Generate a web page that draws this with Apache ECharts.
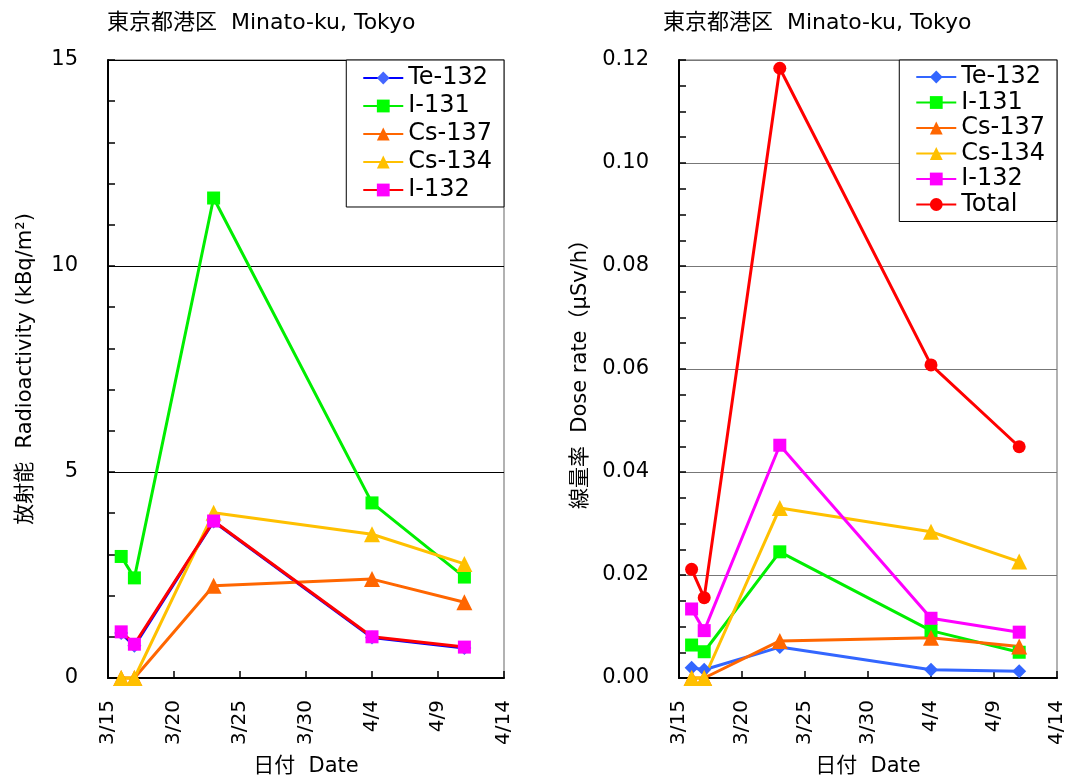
<!DOCTYPE html>
<html>
<head>
<meta charset="utf-8">
<script src="https://cdn.jsdelivr.net/npm/echarts@6/dist/echarts.min.js"></script>
<style>
  html, body { margin: 0; padding: 0; background: #fff; }
  #main { width: 1068px; height: 778px; }
</style>
</head>
<body>
<div id="main"></div>
<script>
var FONT = "'DejaVu Sans', 'Noto Sans CJK JP', sans-serif";

// sampling dates (2011)
var dates = ['3/16', '3/17', '3/23', '4/4', '4/11'];
var nuclides = ['Te-132', 'I-131', 'Cs-137', 'Cs-134', 'I-132'];

// radioactivity, kBq/m2
var te132Act = [1.09, 0.78, 3.80, 0.98, 0.73];
var i131Act  = [2.95, 2.43, 11.65, 4.25, 2.45];
var cs137Act = [0, 0, 2.24, 2.40, 1.84];
var cs134Act = [0, 0, 4.01, 3.49, 2.77];
var i132Act  = [1.12, 0.82, 3.81, 1.00, 0.75];

// dose rate, uSv/h
var te132Dose = [0.0020, 0.0016, 0.0060, 0.0016, 0.0013];
var i131Dose  = [0.0064, 0.0051, 0.0245, 0.0092, 0.0050];
var cs137Dose = [0, 0, 0.0072, 0.0078, 0.0061];
var cs134Dose = [0, 0, 0.0330, 0.0284, 0.0226];
var i132Dose  = [0.0134, 0.0092, 0.0452, 0.0116, 0.0089];
var totalDose = [0.0211, 0.0156, 0.1184, 0.0608, 0.0449];

// day offset from 3/15
function dayOf(md) {
  var p = md.split('/');
  return (Date.UTC(2011, +p[0] - 1, +p[1]) - Date.UTC(2011, 2, 15)) / 86400000;
}
function labelOf(v) {
  var d = new Date(Date.UTC(2011, 2, 15) + v * 86400000);
  return (d.getUTCMonth() + 1) + '/' + d.getUTCDate();
}
function pts(vals) {
  return vals.map(function (v, i) { return [dayOf(dates[i]), v]; });
}

function mkSeries(name, idx, vals, lineColor, markColor, symbol, size) {
  return {
    name: name,
    type: 'line',
    xAxisIndex: idx,
    yAxisIndex: idx,
    data: pts(vals),
    symbol: symbol,
    symbolSize: size,
    clip: false,
    lineStyle: { color: lineColor, width: 3 },
    itemStyle: { color: markColor, borderWidth: 0 },
    emphasis: { disabled: true },
    z: 3
  };
}

function xAxisOf(idx) {
  return {
    type: 'value',
    gridIndex: idx,
    min: 0, max: 30, interval: 5,
    name: '日付  Date',
    nameLocation: 'middle',
    nameGap: 78,
    nameTextStyle: { fontFamily: FONT, fontSize: 21, color: '#000' },
    axisLine: { lineStyle: { color: '#000', width: 2 } },
    axisTick: { inside: true, length: 7, lineStyle: { color: '#000', width: 1.5 } },
    axisLabel: {
      rotate: 90, margin: 22,
      fontFamily: FONT, fontSize: 20, color: '#000',
      formatter: function (v) { return labelOf(v); }
    },
    splitLine: { show: false }
  };
}

var legendText = { fontFamily: FONT, fontSize: 24, lineHeight: 22, color: '#000' };

var myChart = echarts.init(document.getElementById('main'));
var option = {
  backgroundColor: '#fff',
  animation: false,
  title: [
    { text: '東京都港区  Minato-ku, Tokyo', left: 107, top: 12, padding: 0,
      textStyle: { fontFamily: FONT, fontSize: 22, fontWeight: 'normal', color: '#000' } },
    { text: '東京都港区  Minato-ku, Tokyo', left: 663, top: 12, padding: 0,
      textStyle: { fontFamily: FONT, fontSize: 22, fontWeight: 'normal', color: '#000' } }
  ],
  grid: [
    { left: 108, top: 60, width: 396, height: 618, show: true, borderColor: '#999', borderWidth: 1.5,
      outerBoundsMode: 'none', containLabel: false },
    { left: 679, top: 60, width: 378, height: 618, show: true, borderColor: '#999', borderWidth: 1.5,
      outerBoundsMode: 'none', containLabel: false }
  ],
  legend: [
    {
      data: nuclides,
      orient: 'vertical', right: 564, top: 60,
      padding: [6, 12, 5, 16], itemGap: 4, itemWidth: 40, itemHeight: 16,
      borderColor: '#000', borderWidth: 1, backgroundColor: '#fff',
      textStyle: legendText
    },
    {
      data: nuclides.concat(['Total']).map(function (n) { return 'R ' + n; }),
      formatter: function (n) { return n.slice(2); },
      orient: 'vertical', right: 11, top: 60,
      padding: [5, 12, 5, 16], itemGap: 1.5, itemWidth: 40, itemHeight: 16,
      borderColor: '#000', borderWidth: 1, backgroundColor: '#fff',
      textStyle: legendText
    }
  ],
  xAxis: [xAxisOf(0), xAxisOf(1)],
  yAxis: [
    {
      type: 'value', gridIndex: 0,
      min: 0, max: 15, interval: 5,
      name: '放射能  Radioactivity (kBq/m²)',
      nameLocation: 'middle', nameGap: 72,
      nameTextStyle: { fontFamily: FONT, fontSize: 21, color: '#000' },
      axisLine: { show: true, lineStyle: { color: '#000', width: 2 } },
      axisTick: { show: true, inside: true, length: 7, lineStyle: { color: '#000', width: 1.5 } },
      minorTick: { show: true, splitNumber: 5, length: 7, lineStyle: { color: '#000', width: 1.5 } },
      axisLabel: { margin: 30, fontFamily: FONT, fontSize: 21, color: '#000' },
      splitLine: { show: true, lineStyle: { color: '#000', width: 1.2 } }
    },
    {
      type: 'value', gridIndex: 1,
      min: 0, max: 0.12, interval: 0.02,
      name: '線量率  Dose rate（μSv/h）',
      nameLocation: 'middle', nameGap: 88,
      nameTextStyle: { fontFamily: FONT, fontSize: 21, color: '#000' },
      axisLine: { show: true, lineStyle: { color: '#000', width: 2 } },
      axisTick: { show: true, inside: true, length: 7, lineStyle: { color: '#000', width: 1.5 } },
      minorTick: { show: true, splitNumber: 4, length: 7, lineStyle: { color: '#000', width: 1.5 } },
      axisLabel: { margin: 30, fontFamily: FONT, fontSize: 21, color: '#000',
        formatter: function (v) { return v.toFixed(2); } },
      splitLine: { show: true, lineStyle: { color: '#777', width: 1.2 } }
    }
  ],
  series: [
    mkSeries('Te-132', 0, te132Act, '#0000ff', '#4466ff', 'diamond', 14),
    mkSeries('I-131', 0, i131Act, '#00ee00', '#00ff00', 'rect', 13),
    mkSeries('Cs-137', 0, cs137Act, '#ff6600', '#ff6600', 'triangle', 16),
    mkSeries('Cs-134', 0, cs134Act, '#ffc000', '#ffc000', 'triangle', 16),
    mkSeries('I-132', 0, i132Act, '#ff0000', '#ff00ff', 'rect', 13),

    mkSeries('R Te-132', 1, te132Dose, '#3366ff', '#3366ff', 'diamond', 14),
    mkSeries('R I-131', 1, i131Dose, '#00ee00', '#00ff00', 'rect', 13),
    mkSeries('R Cs-137', 1, cs137Dose, '#ff6600', '#ff6600', 'triangle', 16),
    mkSeries('R Cs-134', 1, cs134Dose, '#ffc000', '#ffc000', 'triangle', 16),
    mkSeries('R I-132', 1, i132Dose, '#ff00ff', '#ff00ff', 'rect', 13),
    mkSeries('R Total', 1, totalDose, '#ff0000', '#ff0000', 'circle', 13)
  ]
};

myChart.setOption(option);
</script>
</body>
</html>
